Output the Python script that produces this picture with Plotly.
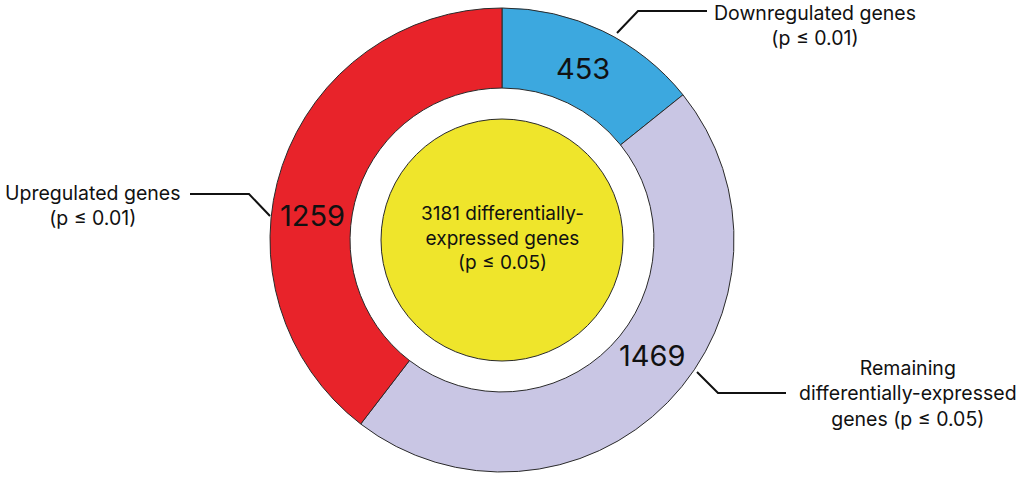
import plotly.graph_objects as go

# Data
categories = ["Downregulated genes", "Remaining differentially-expressed genes", "Upregulated genes"]
values = [453, 1469, 1259]
colors = ["#3CA8DF", "#C9C6E4", "#E8232A"]
center_text = "3181 differentially-<br>expressed genes<br>(p ≤ 0.05)"
label_texts = ["Downregulated genes<br>(p ≤ 0.01)",
               "Remaining<br>differentially-expressed<br>genes (p ≤ 0.05)",
               "Upregulated genes<br>(p ≤ 0.01)"]

W, H = 1024, 478
cx, cy, R = 502, 240, 232

def px(x):
    return x / W

def py(y):
    return 1 - y / H

FONT = "Inter, Liberation Sans, Arial, sans-serif"

fig = go.Figure()
fig.add_trace(go.Pie(
    labels=categories,
    values=values,
    hole=0.655,
    sort=False,
    direction="clockwise",
    rotation=0,
    marker=dict(colors=colors, line=dict(color="#2a2a2a", width=1)),
    textinfo="none",
    hoverinfo="label+value",
    showlegend=False,
    domain=dict(x=[px(cx - R), px(cx + R)], y=[py(cy + R), py(cy - R)]),
))

# Yellow centre circle
rc = 121
fig.add_shape(type="circle", xref="paper", yref="paper",
              x0=px(cx - rc), x1=px(cx + rc), y0=py(cy + rc), y1=py(cy - rc),
              fillcolor="#EFE52B", line=dict(color="#2a2a2a", width=1))

def ann(x, y, text, size):
    return dict(x=px(x), y=py(y), xref="paper", yref="paper",
                xanchor="center", yanchor="middle", align="center",
                text=text, showarrow=False,
                font=dict(family=FONT, size=size, color="#111"))

annotations = [ann(cx, cy - 2, center_text, 19)]

# Value labels
value_pos = [(583, 68), (652, 355), (312, 215)]
for v, (x, y) in zip(values, value_pos):
    annotations.append(ann(x, y, str(v), 29))

# Category labels
annotations.append(ann(815, 25, label_texts[0], 19.5))
annotations.append(ann(908, 393, label_texts[1], 19.5))
annotations.append(ann(93, 205, label_texts[2], 19.5))

# Connector lines
connectors = [
    [(617, 33), (638, 11), (707, 11)],
    [(697, 372), (718, 393), (786, 393)],
    [(270, 216), (249, 194), (190, 194)],
]
for pts in connectors:
    path = "M " + " L ".join(f"{px(x)},{py(y)}" for x, y in pts)
    fig.add_shape(type="path", xref="paper", yref="paper", path=path,
                  line=dict(color="#111", width=2))

fig.update_layout(
    width=W, height=H,
    margin=dict(l=0, r=0, t=0, b=0),
    paper_bgcolor="white", plot_bgcolor="white",
    annotations=annotations,
)

fig.write_html("out.html", config={"displayModeBar": False},
               post_script="document.body.style.margin='0';")
